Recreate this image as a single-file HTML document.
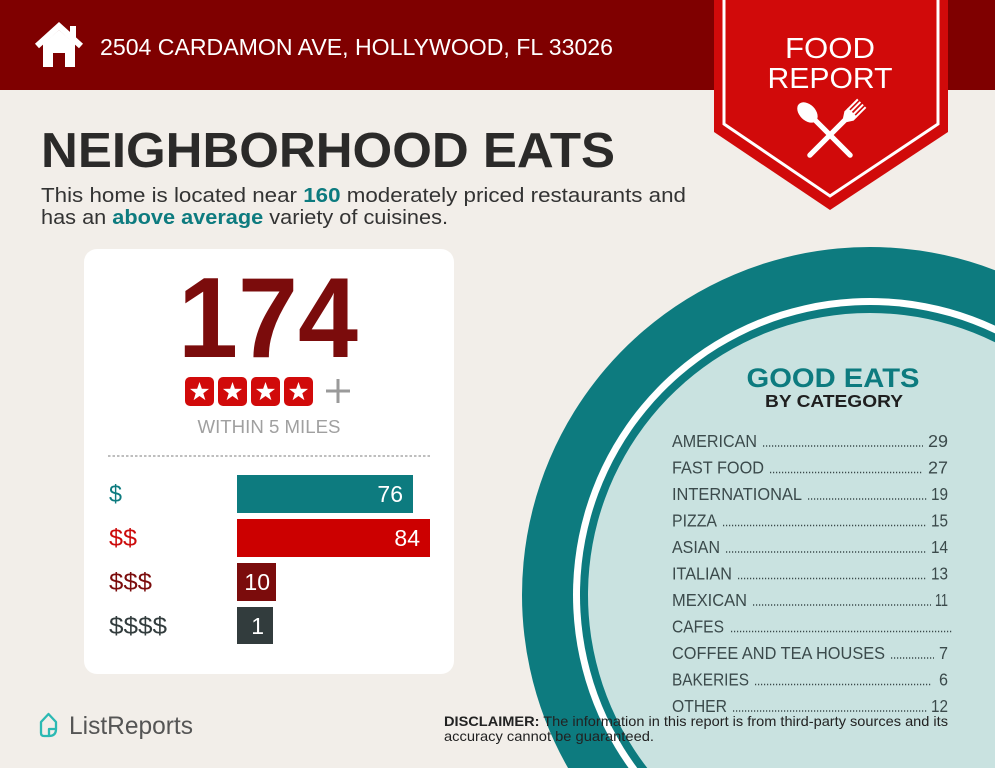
<!DOCTYPE html>
<html>
<head>
<meta charset="utf-8">
<style>
  html,body{margin:0;padding:0;background:#f2eee9;width:995px;height:768px;overflow:hidden;}
  svg{display:block;}
  text{font-family:"Liberation Sans", sans-serif;}
</style>
</head>
<body>
<svg width="995" height="768" viewBox="0 0 995 768" xmlns="http://www.w3.org/2000/svg">
  <rect x="0" y="0" width="995" height="768" fill="#f2eee9"/>

  <!-- header band -->
  <rect x="0" y="0" width="995" height="90" fill="#7f0000"/>

  <!-- house icon -->
  <g fill="#ffffff">
    <rect x="70" y="26" width="6" height="12"/>
    <polyline points="37,46 59,26 81,46" fill="none" stroke="#ffffff" stroke-width="6" stroke-linejoin="miter"/>
    <path d="M43,44 L59,30 L75,44 L75,67 L65,67 L65,53 L53,53 L53,67 L43,67 Z"/>
  </g>
  <text x="100" y="55" font-size="23" fill="#ffffff" textLength="513" lengthAdjust="spacingAndGlyphs">2504 CARDAMON AVE, HOLLYWOOD, FL 33026</text>

  <!-- food report banner -->
  <polygon points="714,0 948,0 948,132 830,210 714,132" fill="#d10a0a"/>
  <polyline points="724,0 724,124 830,196 938,124 938,0" fill="none" stroke="#ffffff" stroke-width="3"/>
  <text x="830" y="58" font-size="29" fill="#ffffff" text-anchor="middle" textLength="90" lengthAdjust="spacingAndGlyphs">FOOD</text>
  <text x="830" y="88" font-size="29" fill="#ffffff" text-anchor="middle" textLength="125" lengthAdjust="spacingAndGlyphs">REPORT</text>
  <!-- spoon -->
  <g transform="translate(852,157) rotate(-135)" fill="#ffffff">
    <rect x="0" y="-2.6" width="54" height="5.2" rx="2.6"/>
    <ellipse cx="63" cy="0" rx="12" ry="8"/>
  </g>
  <!-- fork -->
  <g transform="translate(808,157) rotate(-45)" fill="#ffffff">
    <rect x="0" y="-2.6" width="56" height="5.2" rx="2.6"/>
    <path d="M52,-2.6 L58,-6.5 L63,-6.5 L63,6.5 L58,6.5 L52,2.6 Z"/>
    <rect x="62" y="-6.5" width="14" height="2"/>
    <rect x="62" y="-2.9" width="14" height="2"/>
    <rect x="62" y="0.9" width="14" height="2"/>
    <rect x="62" y="4.5" width="14" height="2"/>
  </g>

  <!-- title -->
  <text x="41" y="167" font-size="49" font-weight="bold" fill="#2b2a29" textLength="574" lengthAdjust="spacingAndGlyphs">NEIGHBORHOOD EATS</text>
  <text x="41" y="202" font-size="20" fill="#333333" textLength="645" lengthAdjust="spacingAndGlyphs">This home is located near <tspan font-weight="bold" fill="#0d7b7f">160</tspan> moderately priced restaurants and</text>
  <text x="41" y="224" font-size="20" fill="#333333" textLength="407" lengthAdjust="spacingAndGlyphs">has an <tspan font-weight="bold" fill="#0d7b7f">above average</tspan> variety of cuisines.</text>

  <!-- card -->
  <rect x="84" y="249" width="370" height="425" rx="13" fill="#ffffff"/>
  <text x="268" y="357" font-size="114" font-weight="bold" fill="#7b0c0c" text-anchor="middle" textLength="180" lengthAdjust="spacingAndGlyphs">174</text>

  <!-- stars -->
  <g>
    <rect x="185" y="377" width="29" height="29" rx="5" fill="#d10a0a"/>
    <rect x="218" y="377" width="29" height="29" rx="5" fill="#d10a0a"/>
    <rect x="251" y="377" width="29" height="29" rx="5" fill="#d10a0a"/>
    <rect x="284" y="377" width="29" height="29" rx="5" fill="#d10a0a"/>
    <g fill="#ffffff">
      <path transform="translate(199.5,392)" d="M0,-10 L2.35,-3.24 L9.51,-3.09 L3.8,1.24 L5.88,8.09 L0,4 L-5.88,8.09 L-3.8,1.24 L-9.51,-3.09 L-2.35,-3.24 Z"/>
      <path transform="translate(232.5,392)" d="M0,-10 L2.35,-3.24 L9.51,-3.09 L3.8,1.24 L5.88,8.09 L0,4 L-5.88,8.09 L-3.8,1.24 L-9.51,-3.09 L-2.35,-3.24 Z"/>
      <path transform="translate(265.5,392)" d="M0,-10 L2.35,-3.24 L9.51,-3.09 L3.8,1.24 L5.88,8.09 L0,4 L-5.88,8.09 L-3.8,1.24 L-9.51,-3.09 L-2.35,-3.24 Z"/>
      <path transform="translate(298.5,392)" d="M0,-10 L2.35,-3.24 L9.51,-3.09 L3.8,1.24 L5.88,8.09 L0,4 L-5.88,8.09 L-3.8,1.24 L-9.51,-3.09 L-2.35,-3.24 Z"/>
    </g>
    <line x1="326" y1="391" x2="350" y2="391" stroke="#9a9a9a" stroke-width="3"/>
    <line x1="338" y1="379" x2="338" y2="403" stroke="#9a9a9a" stroke-width="3"/>
  </g>
  <text x="269" y="433" font-size="18.5" fill="#a0a0a0" text-anchor="middle" textLength="143" lengthAdjust="spacingAndGlyphs">WITHIN 5 MILES</text>
  <line x1="108" y1="456" x2="430" y2="456" stroke="#a8a8a8" stroke-width="1.5" stroke-dasharray="2.5 2"/>

  <!-- price bars -->
  <text x="109" y="502" font-size="24" fill="#0d7b7f" textLength="13" lengthAdjust="spacingAndGlyphs">$</text>
  <rect x="237" y="475" width="176" height="38" fill="#0d7b7f"/>
  <text x="403" y="502" font-size="23" fill="#ffffff" text-anchor="end">76</text>

  <text x="109" y="546" font-size="24" fill="#cc0a0a" textLength="28" lengthAdjust="spacingAndGlyphs">$$</text>
  <rect x="237" y="519" width="193" height="38" fill="#cc0000"/>
  <text x="420" y="546" font-size="23" fill="#ffffff" text-anchor="end">84</text>

  <text x="109" y="590" font-size="24" fill="#7b0c0c" textLength="43" lengthAdjust="spacingAndGlyphs">$$$</text>
  <rect x="237" y="563" width="39" height="38" fill="#7b0c0c"/>
  <text x="270" y="590" font-size="23" fill="#ffffff" text-anchor="end">10</text>

  <text x="109" y="634" font-size="24" fill="#323c3d" textLength="58" lengthAdjust="spacingAndGlyphs">$$$$</text>
  <rect x="237" y="607" width="36" height="37" fill="#323c3d"/>
  <text x="264" y="634" font-size="23" fill="#ffffff" text-anchor="end">1</text>

  <!-- circle (clipped to frame) -->
  <path d="M568.05,768 A348,348 0 0 1 995,270.22 L995,768 Z" fill="#0d7b7f"/>
  <path d="M628.59,768 A297,297 0 0 1 995,325.59 L995,768 Z" fill="#ffffff"/>
  <path d="M637.25,768 A290,290 0 0 1 995,333.32 L995,768 Z" fill="#0d7b7f"/>
  <path d="M647.30,768 A282,282 0 0 1 995,342.22 L995,768 Z" fill="#c9e2e0"/>

  <text x="833" y="387" font-size="27" font-weight="bold" fill="#0d7b7f" text-anchor="middle" textLength="173" lengthAdjust="spacingAndGlyphs">GOOD EATS</text>
  <text x="834" y="407" font-size="17.5" font-weight="bold" fill="#1f1f1f" text-anchor="middle" textLength="138" lengthAdjust="spacingAndGlyphs">BY CATEGORY</text>

  <g font-size="17.5" fill="#3b4a4b">
    <text x="672" y="447" textLength="85" lengthAdjust="spacingAndGlyphs">AMERICAN</text>
    <text x="928" y="447" textLength="20" lengthAdjust="spacingAndGlyphs">29</text>
    <text x="672" y="473.5" textLength="92" lengthAdjust="spacingAndGlyphs">FAST FOOD</text>
    <text x="928" y="473.5" textLength="20" lengthAdjust="spacingAndGlyphs">27</text>
    <text x="672" y="500" textLength="130" lengthAdjust="spacingAndGlyphs">INTERNATIONAL</text>
    <text x="931" y="500" textLength="17" lengthAdjust="spacingAndGlyphs">19</text>
    <text x="672" y="526.5" textLength="45" lengthAdjust="spacingAndGlyphs">PIZZA</text>
    <text x="931" y="526.5" textLength="17" lengthAdjust="spacingAndGlyphs">15</text>
    <text x="672" y="553" textLength="48" lengthAdjust="spacingAndGlyphs">ASIAN</text>
    <text x="931" y="553" textLength="17" lengthAdjust="spacingAndGlyphs">14</text>
    <text x="672" y="579.5" textLength="60" lengthAdjust="spacingAndGlyphs">ITALIAN</text>
    <text x="931" y="579.5" textLength="17" lengthAdjust="spacingAndGlyphs">13</text>
    <text x="672" y="606" textLength="75" lengthAdjust="spacingAndGlyphs">MEXICAN</text>
    <text x="935" y="606" textLength="13" lengthAdjust="spacingAndGlyphs">11</text>
    <text x="672" y="632.5" textLength="52" lengthAdjust="spacingAndGlyphs">CAFES</text>
    <text x="672" y="659" textLength="213" lengthAdjust="spacingAndGlyphs">COFFEE AND TEA HOUSES</text>
    <text x="939" y="659" textLength="9" lengthAdjust="spacingAndGlyphs">7</text>
    <text x="672" y="685.5" textLength="77" lengthAdjust="spacingAndGlyphs">BAKERIES</text>
    <text x="939" y="685.5" textLength="9" lengthAdjust="spacingAndGlyphs">6</text>
    <text x="672" y="712" textLength="55" lengthAdjust="spacingAndGlyphs">OTHER</text>
    <text x="931" y="712" textLength="17" lengthAdjust="spacingAndGlyphs">12</text>
  </g>
  <g stroke="#3b4a4b" stroke-width="1.4" stroke-dasharray="1.2 1.8">
    <line x1="763" y1="446" x2="923" y2="446"/>
    <line x1="770" y1="472.5" x2="923" y2="472.5"/>
    <line x1="808" y1="499" x2="927" y2="499"/>
    <line x1="723" y1="525.5" x2="927" y2="525.5"/>
    <line x1="726" y1="552" x2="927" y2="552"/>
    <line x1="738" y1="578.5" x2="927" y2="578.5"/>
    <line x1="753" y1="605" x2="931" y2="605"/>
    <line x1="731" y1="631.5" x2="953" y2="631.5"/>
    <line x1="891" y1="658" x2="934" y2="658"/>
    <line x1="755" y1="684.5" x2="932" y2="684.5"/>
    <line x1="733" y1="711" x2="927" y2="711"/>
  </g>

  <!-- disclaimer -->
  <text x="444" y="726" font-size="14" fill="#222222" textLength="504" lengthAdjust="spacingAndGlyphs"><tspan font-weight="bold">DISCLAIMER:</tspan> The information in this report is from third-party sources and its</text>
  <text x="444" y="741" font-size="14" fill="#222222" textLength="210" lengthAdjust="spacingAndGlyphs">accuracy cannot be guaranteed.</text>

  <!-- ListReports logo -->
  <path d="M41,733 L41,722 L48.5,714 L56,722 L56,729 Q56,736 49,736 L44,736 Q41,736 41,733 Z M49,736 L49,729 L56,729" fill="none" stroke="#2bb9b3" stroke-width="2.3" stroke-linejoin="round"/>
  <text x="69" y="734" font-size="25" fill="#555555" textLength="124" lengthAdjust="spacingAndGlyphs">ListReports</text>
</svg>
</body>
</html>
